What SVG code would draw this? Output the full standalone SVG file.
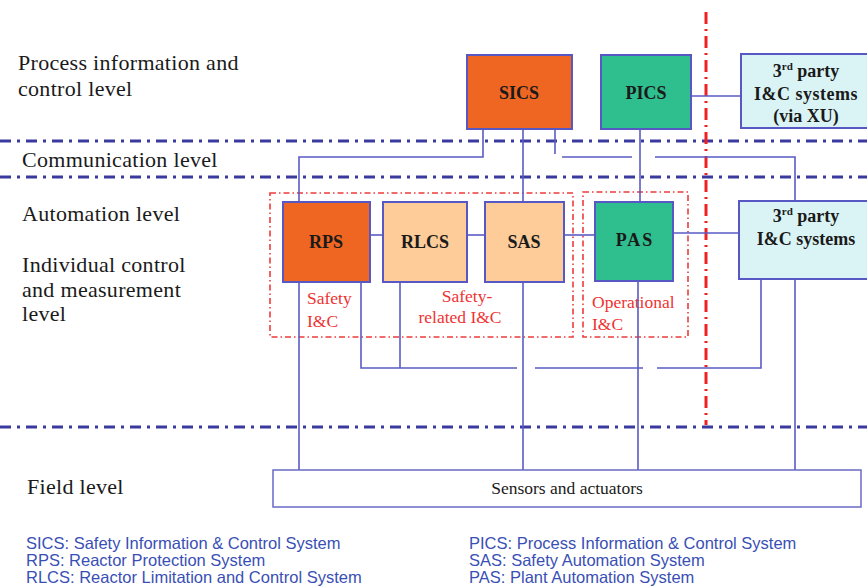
<svg xmlns="http://www.w3.org/2000/svg" width="867" height="587" viewBox="0 0 867 587">
<style>
.lvl{font-family:"Liberation Serif","Times New Roman",serif;font-size:22px;letter-spacing:0.3px;fill:#1a1a1a}
.bl{font-family:"Liberation Serif","Times New Roman",serif;font-size:18px;font-weight:bold;fill:#1a1a1a;text-anchor:middle}
.red{font-family:"Liberation Serif","Times New Roman",serif;font-size:17.5px;fill:#ee3333}
.leg{font-family:"Liberation Sans",Arial,sans-serif;font-size:16.5px;fill:#3a4fb5}
.box{stroke:#5858c4;stroke-width:2}
.lvline{stroke:#3a3a9e;stroke-width:3;stroke-dasharray:11 6 3 6;fill:none}
.grp{fill:none;stroke:#ee3b3b;stroke-width:1.6;stroke-dasharray:6 3 1.5 3}
.con{stroke:#5a5ac4;stroke-width:1.6;fill:none}
</style>
<rect width="867" height="587" fill="#ffffff"/>
<g id="levels">
<line class="lvline" x1="0" y1="141" x2="867" y2="141"/>
<line class="lvline" x1="0" y1="177" x2="867" y2="177"/>
<line class="lvline" x1="0" y1="427" x2="867" y2="427"/>
<line x1="706" y1="12" x2="706" y2="425" stroke="#ee2222" stroke-width="3" stroke-dasharray="12 5 2 5"/>
<text class="lvl" x="18" y="70">Process information and</text>
<text class="lvl" x="18" y="96">control level</text>
<text class="lvl" x="22" y="167">Communication level</text>
<text class="lvl" x="22" y="221">Automation level</text>
<text class="lvl" x="22" y="272">Individual control</text>
<text class="lvl" x="22" y="297">and measurement</text>
<text class="lvl" x="22" y="321">level</text>
<text class="lvl" x="27" y="494">Field level</text>
</g>
<g id="groups">
<rect class="grp" x="270" y="193" width="303" height="144"/>
<rect class="grp" x="583" y="192" width="105" height="145"/>
<text class="red" x="307" y="304">Safety</text>
<text class="red" x="307" y="327">I&amp;C</text>
<text class="red" x="467" y="302" text-anchor="middle">Safety-</text>
<text class="red" x="460" y="323" text-anchor="middle">related I&amp;C</text>
<text class="red" x="592" y="308">Operational</text>
<text class="red" x="592" y="330">I&amp;C</text>
</g>
<g id="connectors">
<polyline class="con" points="483,129 483,157 299,157 299,202"/>
<line class="con" x1="523" y1="129" x2="523" y2="202"/>
<line class="con" x1="555" y1="129" x2="555" y2="154"/>
<line class="con" x1="562" y1="157" x2="632" y2="157"/>
<polyline class="con" points="655,157 795,157 795,201"/>
<line class="con" x1="640" y1="129" x2="640" y2="202"/>
<line class="con" x1="691" y1="96" x2="741" y2="96"/>
<line class="con" x1="370" y1="235" x2="383" y2="235"/>
<line class="con" x1="467" y1="235" x2="485" y2="235"/>
<line class="con" x1="564" y1="235" x2="595" y2="235"/>
<line class="con" x1="673" y1="233" x2="739" y2="233"/>
<line class="con" x1="299" y1="282" x2="299" y2="470"/>
<polyline class="con" points="361,282 361,368 517,368"/>
<line class="con" x1="400" y1="282" x2="400" y2="368"/>
<line class="con" x1="535" y1="368" x2="643" y2="368"/>
<polyline class="con" points="657,368 761,368 761,279"/>
<line class="con" x1="523" y1="282" x2="523" y2="470"/>
<line class="con" x1="638" y1="281" x2="638" y2="470"/>
<line class="con" x1="795" y1="279" x2="795" y2="470"/>
</g>
<g id="SICS">
<rect class="box" x="467" y="55" width="105" height="74" fill="#ef6522"/>
<text class="bl" x="519" y="99">SICS</text>
</g>
<g id="PICS">
<rect class="box" x="601" y="55" width="90" height="74" fill="#2fbf8f"/>
<text class="bl" x="646" y="99">PICS</text>
</g>
<g id="third-party-xu">
<rect class="box" x="741" y="54" width="130" height="74" fill="#daf4f5"/>
<text class="bl" x="806" y="77">3<tspan font-size="11" dy="-7">rd</tspan><tspan dy="7"> party</tspan></text>
<text class="bl" x="806" y="100" letter-spacing="0.5">I&amp;C systems</text>
<text class="bl" x="806" y="122">(via XU)</text>
</g>
<g id="RPS">
<rect class="box" x="283" y="202" width="87" height="80" fill="#ef6522"/>
<text class="bl" x="326" y="248">RPS</text>
</g>
<g id="RLCS">
<rect class="box" x="383" y="202" width="84" height="80" fill="#fdcc99"/>
<text class="bl" x="425" y="248">RLCS</text>
</g>
<g id="SAS">
<rect class="box" x="485" y="202" width="79" height="80" fill="#fdcc99"/>
<text class="bl" x="524" y="248">SAS</text>
</g>
<g id="PAS">
<rect class="box" x="595" y="202" width="78" height="79" fill="#2fbf8f"/>
<text class="bl" x="635" y="246" letter-spacing="2">PAS</text>
</g>
<g id="third-party">
<rect class="box" x="739" y="201" width="132" height="78" fill="#daf4f5"/>
<text class="bl" x="806" y="222">3<tspan font-size="11" dy="-7">rd</tspan><tspan dy="7"> party</tspan></text>
<text class="bl" x="806" y="245">I&amp;C systems</text>
</g>
<g id="sensors">
<rect x="273" y="470" width="588" height="37" fill="#ffffff" stroke="#6a6ac8" stroke-width="1.5"/>
<text x="567" y="494" text-anchor="middle" font-family="Liberation Serif,Times New Roman,serif" font-size="17.5" fill="#1a1a1a">Sensors and actuators</text>
</g>
<g id="legend">
<text class="leg" x="26" y="549">SICS: Safety Information &amp; Control System</text>
<text class="leg" x="26" y="566">RPS: Reactor Protection System</text>
<text class="leg" x="26" y="583">RLCS: Reactor Limitation and Control System</text>
<text class="leg" x="469" y="549">PICS: Process Information &amp; Control System</text>
<text class="leg" x="469" y="566">SAS: Safety Automation System</text>
<text class="leg" x="469" y="583">PAS: Plant Automation System</text>
</g>
</svg>
